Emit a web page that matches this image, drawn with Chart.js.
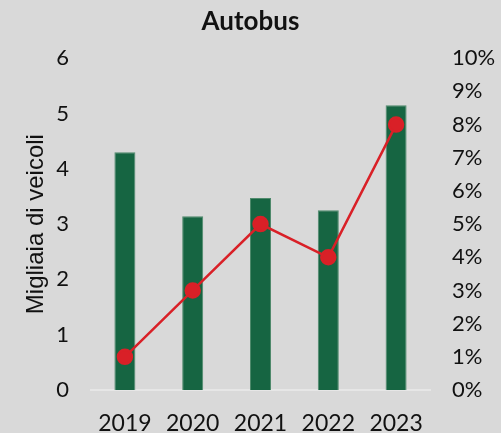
<!DOCTYPE html>
<html>
<head>
<meta charset="utf-8">
<script src="https://cdn.jsdelivr.net/npm/chart.js@4"></script>
<style>
  html, body { margin: 0; padding: 0; background: #d9d9d9; }
  #wrap { width: 501px; height: 433px; }
</style>
</head>
<body>
<div id="wrap"><canvas id="c" width="501" height="433"></canvas></div>
<script>
// dati
const anni = ['2019', '2020', '2021', '2022', '2023'];
const veicoli = [4.30, 3.14, 3.47, 3.25, 5.15];   // migliaia
const quota = [1, 3, 5, 4, 8];                     // %

const verde = '#166542';
const rosso = '#d92027';

const sfondo = {
  id: 'sfondo',
  beforeDraw(chart) {
    const ctx = chart.ctx;
    ctx.save();
    ctx.fillStyle = '#d9d9d9';
    ctx.fillRect(0, 0, chart.width, chart.height);
    ctx.restore();
  }
};

new Chart(document.getElementById('c'), {
  data: {
    labels: anni,
    datasets: [
      { type: 'line', data: quota, yAxisID: 'y1', borderColor: rosso, backgroundColor: rosso,
        borderWidth: 2.5, pointRadius: 7, pointHoverRadius: 7, tension: 0, order: 0 },
      { type: 'bar', data: veicoli, yAxisID: 'y', backgroundColor: verde,
        borderColor: '#4f8a6c', borderWidth: 1, categoryPercentage: 0.31, barPercentage: 1, order: 1 }
    ]
  },
  options: {
    responsive: false,
    animation: false,
    layout: { padding: { top: 2, right: 0, left: 0, bottom: 0 } },
    plugins: {
      legend: { display: false },
      tooltip: { enabled: false },
      title: { display: true, text: 'Autobus', color: '#111',
        font: { family: 'Lato', size: 26, weight: 'bold' }, padding: { top: 4, bottom: 21 } }
    },
    scales: {
      x: {
        grid: { display: false },
        border: { color: '#e6e6e6', width: 2 },
        ticks: { color: '#111', font: { family: 'Lato', size: 23 }, padding: 12 },
        afterFit(s) { s.height = 43; }
      },
      y: {
        position: 'left', min: 0, max: 6,
        grid: { display: false, drawTicks: false },
        border: { display: false },
        ticks: { stepSize: 1, color: '#111', font: { family: 'Lato', size: 22 }, padding: 22 },
        title: { display: true, text: 'Migliaia di veicoli', color: '#111',
          font: { family: 'Liberation Sans', size: 24 }, padding: { top: 22, bottom: 0 } },
        afterFit(s) { s.width = 91; }
      },
      y1: {
        position: 'right', min: 0, max: 10,
        grid: { display: false, drawTicks: false },
        border: { display: false },
        ticks: { stepSize: 1, color: '#111', font: { family: 'Lato', size: 22 }, padding: 22,
          callback: v => v + '%' },
        afterFit(s) { s.width = 71; }
      }
    }
  },
  plugins: [sfondo]
});
</script>
</body>
</html>
